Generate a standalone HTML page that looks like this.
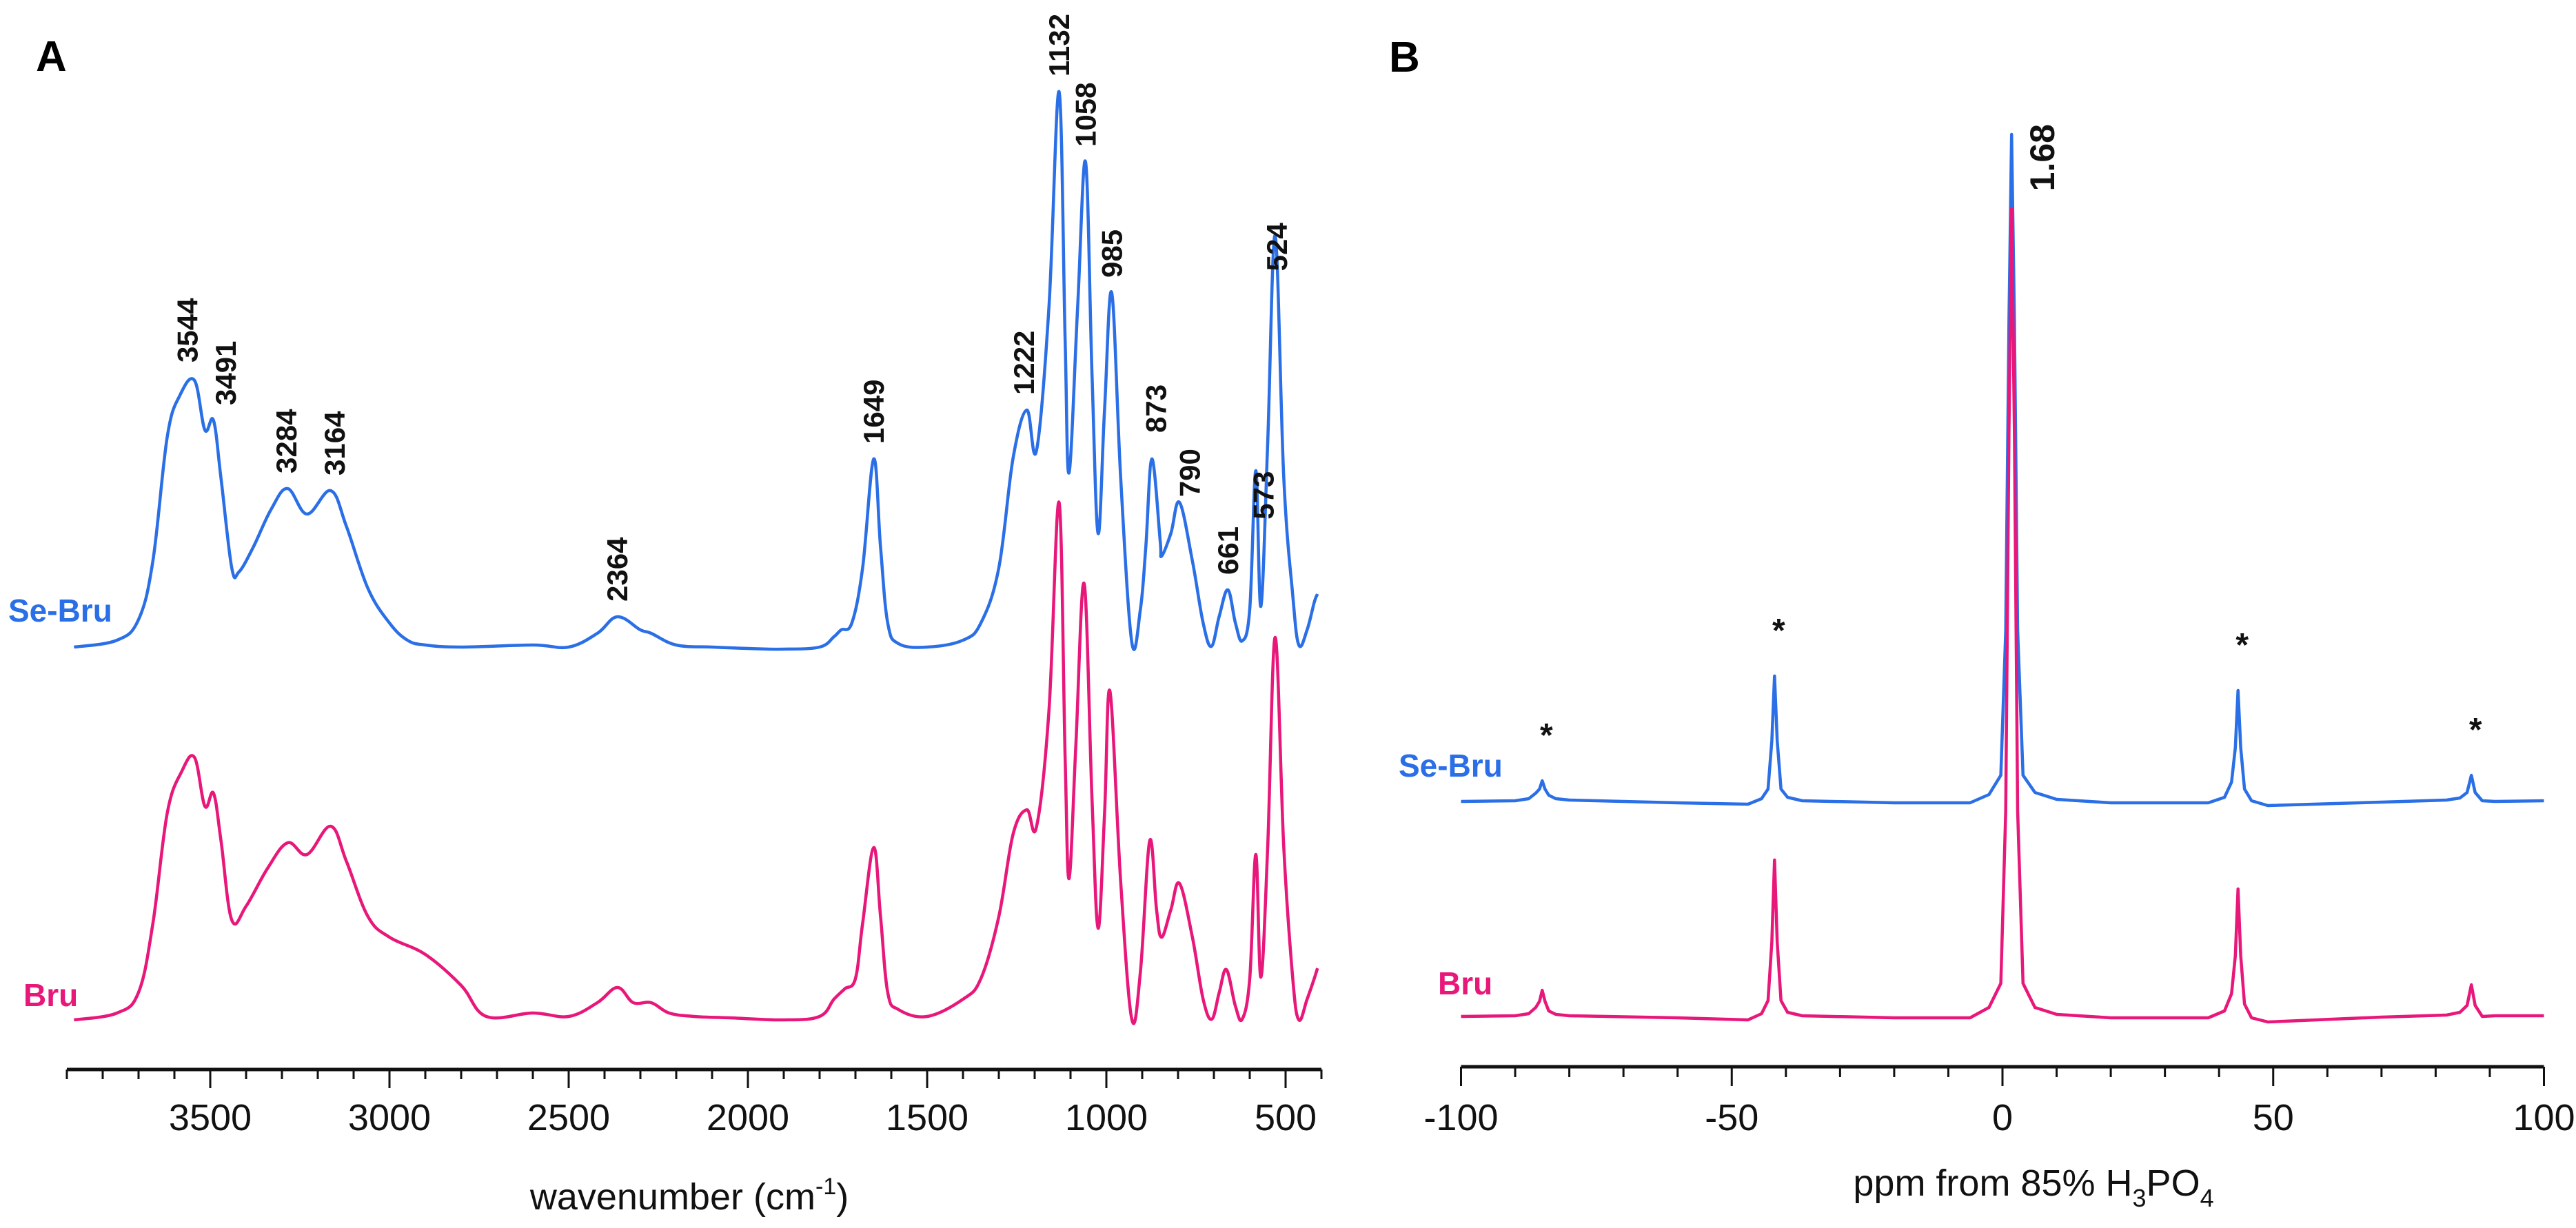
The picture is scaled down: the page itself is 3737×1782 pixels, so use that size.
<!DOCTYPE html>
<html><head><meta charset="utf-8">
<style>
html,body{margin:0;padding:0;background:#fff;}
svg{display:block;font-family:"Liberation Sans",Arial,sans-serif;}
</style></head>
<body>
<svg id="chart" width="3737" height="1782" viewBox="0 0 3737 1782" xmlns="http://www.w3.org/2000/svg">
<rect width="3737" height="1782" fill="#fff"/>
<g id="panelA"></g>
<g id="panelB"></g>
</svg>
<script>
// ---------- Panel A: IR data (wavenumber, intensity a.u.) ----------
const irSeWn = [3880,3760,3700,3660,3620,3585,3544,3515,3491,3470,3440,3420,3380,3330,3284,3230,3164,3120,3060,3000,2950,2900,2800,2600,2500,2420,2364,2300,2270,2200,2100,2000,1900,1800,1760,1740,1710,1680,1649,1630,1610,1580,1500,1400,1350,1300,1260,1222,1195,1160,1132,1115,1104,1080,1058,1040,1023,1005,985,960,929,905,890,873,850,846,820,796,760,730,707,685,661,640,621,600,583,569,550,529,505,480,463,440,420,411];
const irSeVal = [0.5,1.5,4.5,13,31,37,39.2,32,33.4,25,12,11.4,15,20.5,23.5,19.8,23.2,18,9,4,1.5,0.8,0.5,0.8,0.5,2.5,4.9,3,2.5,0.8,0.5,0.3,0.2,0.5,2,3,4,12,27.8,15,4,1,0.5,1.5,4,12,28,34.9,29,50,81.1,45,25.8,50,70.9,40,17,35,51.9,25,1.2,6,15,27.8,16,13.7,17,21.5,13,4,0.6,5,8.8,4,1.4,6,26.1,6.4,30,60.2,25,8,0.8,3,7,8.2];
const irBruWn = [3880,3760,3700,3660,3620,3580,3544,3515,3491,3470,3440,3400,3340,3284,3230,3164,3120,3060,3000,2900,2800,2730,2600,2500,2420,2364,2320,2270,2220,2150,2050,1900,1800,1760,1730,1700,1680,1649,1630,1610,1580,1500,1400,1350,1300,1260,1222,1195,1160,1132,1115,1104,1085,1062,1040,1023,1005,990,960,929,905,879,860,846,820,796,760,730,706,685,665,640,621,600,583,569,550,529,505,480,463,440,420,411];
const irBruVal = [0,1,4,14,30,36,38.1,31,32.9,26,14.5,16.5,22,25.7,24,28.1,23,15,12,9.5,5,0.5,1,0.5,2.5,4.7,2.5,2.5,1,0.5,0.3,0,0.5,3,4.5,6,14,25,15,4,1.5,0.5,3,6,15,27,30.5,28,45,75.1,38,20.5,40,63.3,32,13.3,30,47.7,20,0.1,7,26,16,12,16,19.8,12,3,0.1,4,7.3,2,0.1,6,24,6.2,25,55.5,25,6,0,3,6,7.5];
const irPeakLabels = [3544,3491,3284,3164,2364,1649,1222,1132,1058,985,873,790,661,573,524];
const irTicks = [3500,3000,2500,2000,1500,1000,500];

// ---------- Panel B: NMR data (ppm, intensity a.u.) ----------
const nmrPpm = [-100,-90,-87.5,-86.2,-85.5,-85,-84.5,-83.8,-82.5,-80,-60,-47,-44.5,-43.3,-42.6,-42.1,-41.6,-40.9,-39.7,-37,-20,-6,-2.5,-0.3,0.6,1.2,1.68,2.2,2.8,3.8,6,10,20,38,41,42.3,43,43.5,44,44.7,46,49,70,82,84.5,85.8,86.6,87.3,88.6,91,100];
const nmrSeVal = [0.2,0.3,0.6,1.4,2,3.2,2,1.1,0.6,0.4,0,-0.2,0.6,2,9,18.4,9,2,0.8,0.3,0,0,1.2,4,25,70,97,70,25,4,1.5,0.5,0,0,0.8,3,8,16.3,8,2,0.3,-0.4,0.1,0.4,0.7,1.5,4,1.5,0.3,0.2,0.3];
const nmrBruVal = [0.2,0.3,0.6,1.5,2.4,4,2.4,1,0.5,0.3,0,-0.3,0.6,2.5,11,22.9,11,2.5,0.8,0.3,0,0,1.5,5,30,85,117.4,85,30,5,1.5,0.5,0,0,1,3.5,9,18.7,9,2,0,-0.6,0.1,0.4,0.8,1.8,4.8,1.8,0.2,0.3,0.3];
const nmrTicks = [-100,-50,0,50,100];
const asteriskPpm = [-85,-42.1,43.5,86.6];

const BLUE = "#2b6fe6", PINK = "#e8177a";
const NS = "http://www.w3.org/2000/svg";
function mk(tag, attrs, parent){ const e=document.createElementNS(NS,tag); for(const k in attrs) e.setAttribute(k,attrs[k]); parent.appendChild(e); return e; }

const xA = wn => 97 + (3900 - wn) * 0.52;
const yASe = v => 944 - v * 10;
const yABru = v => 1480 - v * 10;
const xB = p => 2905 + p * 7.855;
const yBSe = v => 1165 - v * 10;
const yBBru = v => 1477 - v * 10;

function smoothPath(xs, ys){
  const p = xs.map((x,i)=>[x,ys[i]]);
  let d = "M"+p[0][0].toFixed(1)+","+p[0][1].toFixed(1);
  for(let i=0;i<p.length-1;i++){
    const p0=p[i-1]||p[i], p1=p[i], p2=p[i+1], p3=p[i+2]||p2;
    const t=0.18;
    const c1=[p1[0]+(p2[0]-p0[0])*t, p1[1]+(p2[1]-p0[1])*t];
    const c2=[p2[0]-(p3[0]-p1[0])*t, p2[1]-(p3[1]-p1[1])*t];
    d+=" C"+c1[0].toFixed(1)+","+c1[1].toFixed(1)+" "+c2[0].toFixed(1)+","+c2[1].toFixed(1)+" "+p2[0].toFixed(1)+","+p2[1].toFixed(1);
  }
  return d;
}
function linePath(xs, ys){ return xs.map((x,i)=>(i?"L":"M")+x.toFixed(1)+","+ys[i].toFixed(1)).join(" "); }

const A = document.getElementById('panelA');
const B = document.getElementById('panelB');

let t;
t = mk('text',{x:52,y:103,'font-size':62,'font-weight':'bold',fill:'#000'},A); t.textContent='A';



let p = mk('path',{d:smoothPath(irBruWn.map(xA), irBruVal.map(yABru)),fill:'none',stroke:PINK,'stroke-width':4.5,'stroke-linejoin':'round'},A);


p = mk('path',{d:smoothPath(irSeWn.map(xA), irSeVal.map(yASe)),fill:'none',stroke:BLUE,'stroke-width':4.5,'stroke-linejoin':'round'},A);



function interp(xs, ys, x){
  for(let i=0;i<xs.length-1;i++){ const a=xs[i],b=xs[i+1]; if((x<=a&&x>=b)||(x>=a&&x<=b)){ const f=(x-a)/(b-a||1); return ys[i]+f*(ys[i+1]-ys[i]); } }
  return ys[ys.length-1];
}
const labelDx = {3491:18, 3544:-10, 3284:-2, 3164:6, 1222:-4, 873:6, 790:12, 573:6};
const labelGap = {573:70, 873:38, 3544:26};
irPeakLabels.forEach(wn=>{
  const v = interp(irSeWn, irSeVal, wn);
  const x = xA(wn) + (labelDx[wn]||0), y = yASe(v) - (labelGap[wn]||22);
  const tx = mk('text',{x:x,y:y,transform:`rotate(-90 ${x} ${y})`,'font-size':42,'font-weight':'bold',fill:'#111','dominant-baseline':'central'},A);
  tx.textContent = String(wn);
  
  
});

t = mk('text',{x:12,y:902,'font-size':46,'font-weight':'bold',fill:BLUE},A); t.textContent='Se-Bru';


t = mk('text',{x:34,y:1460,'font-size':46,'font-weight':'bold',fill:PINK},A); t.textContent='Bru';



let ax = mk('line',{x1:xA(3900),x2:xA(400),y1:1552,y2:1552,stroke:'#111','stroke-width':5},A);


for(let wn=3900; wn>=400; wn-=100){
  const major = wn%500===0;
  const l = mk('line',{x1:xA(wn),x2:xA(wn),y1:1552,y2:1552+(major?27:14),stroke:'#111','stroke-width':3},A);
  
  
}
irTicks.forEach(v=>{
  const tl = mk('text',{x:xA(v),y:1640,'font-size':54,'text-anchor':'middle',fill:'#111'},A);
  tl.textContent = v;
  
  
});
t = mk('text',{x:1000,y:1755,'font-size':54,'text-anchor':'middle',fill:'#111'},A);
t.innerHTML = 'wavenumber (cm<tspan dy="-22" font-size="34">-1</tspan><tspan dy="22">)</tspan>';



t = mk('text',{x:2015,y:104,'font-size':62,'font-weight':'bold',fill:'#000'},B); t.textContent='B';



p = mk('path',{d:linePath(nmrPpm.map(xB), nmrSeVal.map(yBSe)),fill:'none',stroke:BLUE,'stroke-width':4.5,'stroke-linejoin':'round'},B);


p = mk('path',{d:linePath(nmrPpm.map(xB), nmrBruVal.map(yBBru)),fill:'none',stroke:PINK,'stroke-width':4.5,'stroke-linejoin':'round'},B);



const cx = xB(1.68)+45, cy = 180;
t = mk('text',{x:cx,y:cy,transform:`rotate(-90 ${cx} ${cy})`,'font-size':50,'font-weight':'bold',fill:'#111','text-anchor':'end','dominant-baseline':'central'},B);
t.textContent='1.68';



asteriskPpm.forEach(pp=>{
  const v = interp(nmrPpm, nmrSeVal, pp);
  const a = mk('text',{x:xB(pp)+6,y:yBSe(v)-50,'font-size':48,'font-weight':'bold','text-anchor':'middle',fill:'#111'},B);
  a.textContent='*';
  
  
});

t = mk('text',{x:2029,y:1127,'font-size':46,'font-weight':'bold',fill:BLUE},B); t.textContent='Se-Bru';


t = mk('text',{x:2086,y:1443,'font-size':46,'font-weight':'bold',fill:PINK},B); t.textContent='Bru';



ax = mk('line',{x1:xB(-100),x2:xB(100),y1:1548,y2:1548,stroke:'#111','stroke-width':5},B);


for(let v=-100; v<=100; v+=10){
  const major = v%50===0;
  const l = mk('line',{x1:xB(v),x2:xB(v),y1:1548,y2:1548+(major?28:15),stroke:'#111','stroke-width':3},B);
  
  
}
nmrTicks.forEach(v=>{
  const tl = mk('text',{x:xB(v),y:1640,'font-size':54,'text-anchor':'middle',fill:'#111'},B);
  tl.textContent = v;
  
  
});
t = mk('text',{x:2950,y:1735,'font-size':54,'text-anchor':'middle',fill:'#111'},B);
t.innerHTML = 'ppm from 85% H<tspan dy="16" font-size="36">3</tspan><tspan dy="-16">PO</tspan><tspan dy="16" font-size="36">4</tspan>';


</script>
</body></html>
